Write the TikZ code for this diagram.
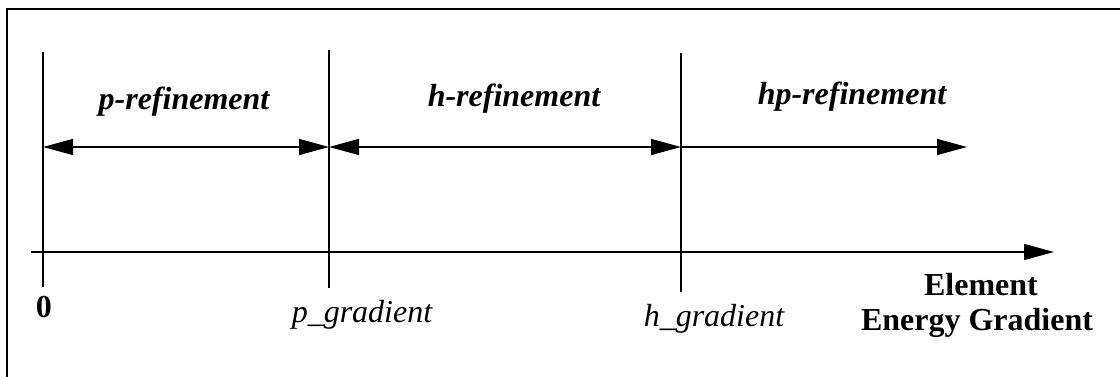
\documentclass[tikz,border=0pt]{standalone}
\usepackage{fontspec}
\setmainfont{Liberation Serif}
\usetikzlibrary{arrows.meta}

\begin{document}
\begin{tikzpicture}[x=0.75pt, y=-0.75pt,
    thin line/.style={line width=1pt, black},
    tip/.style={-{Triangle[length=22.5pt, width=12pt]}},
    tips/.style={{Triangle[length=22.5pt, width=12pt]}-{Triangle[length=22.5pt, width=12pt]}},
    zone/.style={anchor=base, font=\fontsize{24}{26}\selectfont\bfseries\itshape},
    mark label/.style={anchor=base, font=\fontsize{24}{26}\selectfont\itshape}]
                \useasboundingbox (0,0) rectangle (1120,377);
                % Frame
                \draw[line width=2.2pt] (7,377) -- (7,9) -- (1120,9);

                % Ticks at 0, p_gradient, h_gradient
                \coordinate (t0) at (43,52);    \coordinate (b0) at (43,287);
                \coordinate (tp) at (329,50);   \coordinate (bp) at (329,288);
                \coordinate (th) at (681,53);   \coordinate (bh) at (681,292);
                \draw[thin line] (t0) -- (b0);
                \draw[thin line] (tp) -- (bp);
                \draw[thin line] (th) -- (bh);

                % Refinement ranges
                \coordinate (a0) at (43,147);
                \coordinate (ap) at (329,147);
                \coordinate (ah) at (681,147);
                \coordinate (aend) at (967,147);
                \draw[thin line, tips] (a0) -- (ap);
                \draw[thin line, tips] (ap) -- (ah);
                \draw[thin line, tip] (ah) -- (aend);
                \node[zone] (prefine) at (184,110) {p-refinement};
                \node[zone] (hrefine) at (514,107) {h-refinement};
                \node[zone] (hprefine) at (852,105) {hp-refinement};

                % Axis
                \coordinate (xstart) at (31,252);
                \coordinate (xend) at (1054,252);
                \draw[thin line, tip] (xstart) -- (xend);
                \node[anchor=base, font=\fontsize{24}{26}\selectfont\bfseries] (zero) at (44,318) {0};
                \node[mark label] (pgrad) at (362,323) {p\_gradient};
                \node[mark label] (hgrad) at (714,327) {h\_gradient};
                \node[anchor=base, font=\fontsize{24}{26}\selectfont\bfseries] (element) at (981,296) {Element};
                \node[anchor=base, font=\fontsize{24}{26}\selectfont\bfseries] (energy) at (977,330) {Energy Gradient};
\end{tikzpicture}
\end{document}
